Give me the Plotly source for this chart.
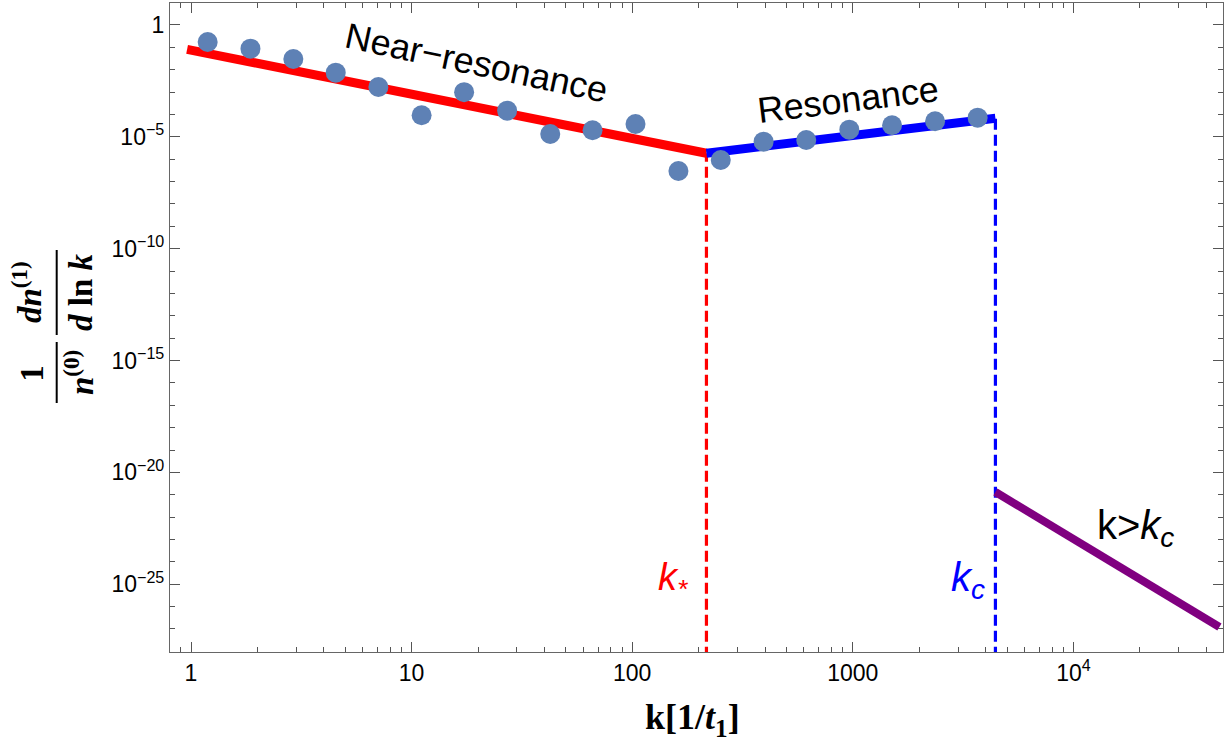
import plotly.graph_objects as go

# ---- data ----
k_pts = [1.19, 1.86, 2.91, 4.53, 7.07, 11.1, 17.3, 27.1, 42.5, 66.1, 103.5, 162,
         252, 394, 615, 964, 1506, 2360, 3680]
y_pts = [0.174, 0.0873, 0.0302, 7.4e-3, 1.69e-3, 9.2e-5, 9.9e-4, 1.48e-4, 1.34e-5,
         1.96e-5, 3.75e-5, 2.97e-7, 9.2e-7, 6.07e-6, 7.2e-6, 2.09e-5, 3.28e-5,
         4.95e-5, 7.18e-5]

k_star = 217
k_c = 4430
near_k = [0.96, k_star]
near_y = [0.082, 1.84e-6]
res_k = [k_star, k_c]
res_y = [1.84e-6, 6.75e-5]
high_k = [k_c, 45900]
high_y = [1.32e-21, 1.23e-27]
y_floor = 1e-29

x_major = [1, 10, 100, 1000, 1e4]
x_major_text = ["1", "10", "100", "1000", "10<sup>4</sup>"]
y_major = [1e-25, 1e-20, 1e-15, 1e-10, 1e-5, 1]
y_major_text = ["10<sup>−25</sup>", "10<sup>−20</sup>", "10<sup>−15</sup>",
                "10<sup>−10</sup>", "10<sup>−5</sup>", "1"]
x_minor = [m * 10 ** e for e in range(-1, 5) for m in range(2, 10)
           if m * 10 ** e not in x_major]
y_minor = [10.0 ** e for e in range(-28, 1) if e % 5 != 0]

# ---- layout geometry (pixels) ----
W, H = 1230, 746
L, R, T, B = 170, 7, 3, 94
PW, PH = W - L - R, H - T - B


def px(x):
    return (x - L) / PW


def py(y):
    return (H - B - y) / PH


fig = go.Figure()
fig.add_trace(go.Scatter(x=[k_star, k_star], y=[y_floor, near_y[1]], mode="lines",
                         line=dict(color="#ff0000", width=3.2, dash="11px,5px"),
                         showlegend=False))
fig.add_trace(go.Scatter(x=[k_c, k_c], y=[y_floor, res_y[1]], mode="lines",
                         line=dict(color="#0000ff", width=3.2, dash="11px,5px"),
                         showlegend=False))
fig.add_trace(go.Scatter(x=near_k, y=near_y, mode="lines",
                         line=dict(color="#ff0000", width=9), showlegend=False))
fig.add_trace(go.Scatter(x=res_k, y=res_y, mode="lines",
                         line=dict(color="#0000ff", width=9), showlegend=False))
fig.add_trace(go.Scatter(x=high_k, y=high_y, mode="lines",
                         line=dict(color="#800080", width=8), showlegend=False))
fig.add_trace(go.Scatter(x=k_pts, y=y_pts, mode="markers",
                         marker=dict(color="#5E81B5", size=20), showlegend=False))

axis_common = dict(
    showgrid=False, zeroline=False, showline=True, linecolor="#666666",
    linewidth=1.2, mirror="allticks", ticks="inside", ticklen=10, tickwidth=1,
    tickcolor="#555555", tickfont=dict(family="Liberation Sans", size=23, color="#000000"),
)
fig.update_xaxes(type="log", range=[-0.0952, 4.678], tickmode="array",
                 tickvals=x_major, ticktext=x_major_text,
                 minor=dict(tickvals=x_minor, ticks="inside", ticklen=5,
                            tickcolor="#555555", showgrid=False),
                 **axis_common)
fig.update_yaxes(type="log", range=[-28.03, 0.983], tickmode="array",
                 tickvals=y_major, ticktext=y_major_text,
                 minor=dict(tickvals=y_minor, ticks="inside", ticklen=5,
                            tickcolor="#555555", showgrid=False),
                 **axis_common)


def label(x, y, text, size, color="#000000", angle=0, family="Liberation Sans"):
    return dict(x=px(x), y=py(y), xref="paper", yref="paper", text=text,
                showarrow=False, textangle=angle, xanchor="center", yanchor="middle",
                font=dict(family=family, size=size, color=color))


ann = [
    label(476, 62, "Near−resonance", 36, angle=12),
    label(848, 100, "Resonance", 36, angle=-7),
    label(1135, 528, "k&gt;<i>k<sub>c</sub></i>", 40),
    label(673, 580, "<i>k<sub>*</sub></i>", 38, color="#ff0000"),
    label(968, 580, "<i>k<sub>c</sub></i>", 40, color="#0000ff"),
    label(692, 719, "<b>k[1/<i>t</i><sub>1</sub>]</b>", 36, family="Liberation Serif"),
    # y title: two stacked fractions, rotated
    label(31.7, 373, "<b>1</b>", 33, angle=-90, family="Liberation Serif"),
    label(79, 373, "<b><i>n</i></b><sup><b>(0)</b></sup>", 33, angle=-90,
          family="Liberation Serif"),
    label(27, 292, "<b><i>dn</i></b><sup><b>(1)</b></sup>", 33, angle=-90,
          family="Liberation Serif"),
    label(81, 292, "<b><i>d</i> ln <i>k</i></b>", 33, angle=-90,
          family="Liberation Serif"),
]

shapes = [
    dict(type="line", xref="paper", yref="paper", x0=px(56.7), x1=px(56.7),
         y0=py(342), y1=py(403), line=dict(color="#000000", width=2)),
    dict(type="line", xref="paper", yref="paper", x0=px(56.7), x1=px(56.7),
         y0=py(250), y1=py(335), line=dict(color="#000000", width=2)),
]

fig.update_layout(width=W, height=H, margin=dict(l=L, r=R, t=T, b=B),
                  paper_bgcolor="white", plot_bgcolor="white",
                  annotations=ann, shapes=shapes, showlegend=False)
fig.write_html("out.html", config={"displayModeBar": False},
               post_script="document.body.style.margin='0';"
                           "document.body.style.overflow='hidden';")
